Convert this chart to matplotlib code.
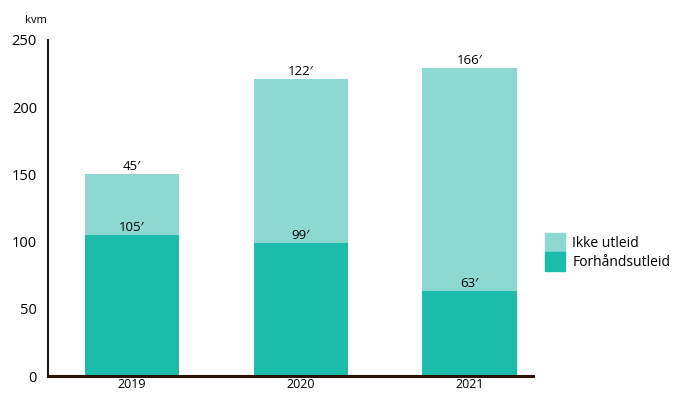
import numpy as np
import matplotlib
matplotlib.use("Agg")
import matplotlib.pyplot as plt
from matplotlib.patches import Patch

plt.rcParams['font.family'] = ['Open Sans', 'DejaVu Sans']

# data
years = ["2019", "2020", "2021"]
forhand = [105, 99, 63]
ikke = [45, 122, 166]
yticks = [0, 50, 100, 150, 200, 250]

dark = "#1BBDAA"
light = "#8DD8D0"

fig = plt.figure(figsize=(6.76, 4.04), dpi=100)
ax = fig.add_axes([0.071, 0.069, 0.717, 0.832])

x = np.arange(len(years))
w = 0.56
ax.bar(x, forhand, w, color=dark, zorder=2)
ax.bar(x, ikke, w, bottom=forhand, color=light, zorder=2)

for i in range(len(years)):
    ax.text(x[i], forhand[i] + 1.0, f"{forhand[i]}\u2032", ha="center", va="bottom", fontsize=9.5)
    top = forhand[i] + ikke[i]
    ax.text(x[i], top + 1.0, f"{ikke[i]}\u2032", ha="center", va="bottom", fontsize=9.5)

ax.set_xlim(-0.497, 2.373)
ax.set_ylim(0, 250)
ax.set_xticks(x)
ax.set_xticklabels(years, fontsize=9)
ax.set_yticks(yticks)
ax.set_yticklabels([str(v) for v in yticks], fontsize=10.5)
ax.tick_params(axis="both", length=0)
ax.tick_params(axis="x", pad=1)
ax.tick_params(axis="y", pad=8)

for s in ["top", "right"]:
    ax.spines[s].set_visible(False)
ax.spines["left"].set_color("#1a1a1a")
ax.spines["left"].set_linewidth(1.5)
ax.spines["bottom"].set_color("#2a1208")
ax.spines["bottom"].set_linewidth(2.2)
ax.spines["bottom"].set_zorder(3)

fig.text(0.037, 0.95, "kvm", fontsize=8, ha="left", va="center")

handles = [Patch(color=light, label="Ikke utleid"), Patch(color=dark, label="Forhåndsutleid")]
ax.legend(handles=handles, loc="center left", bbox_to_anchor=(1.0, 0.37),
          frameon=False, fontsize=10, handlelength=1.45, handleheight=1.75,
          handletextpad=0.5, labelspacing=0.0, borderaxespad=0.5)

fig.savefig("out.png", dpi=100)
